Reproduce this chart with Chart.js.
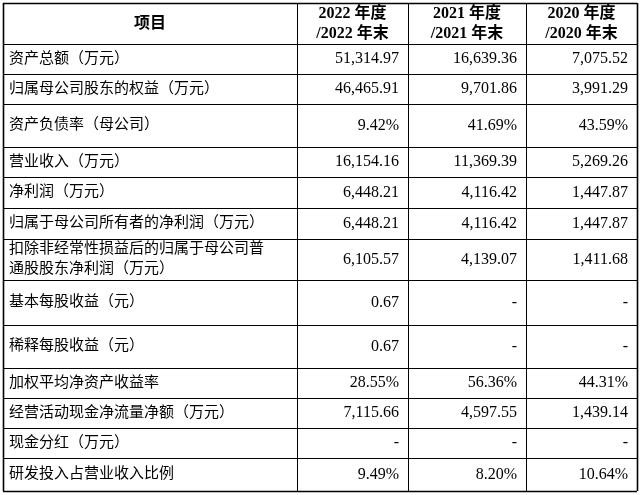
<!DOCTYPE html>
<html><head><meta charset="utf-8">
<script src="https://cdn.jsdelivr.net/npm/chart.js@4"></script>
<style>html,body{margin:0;padding:0;background:#fff}#w{width:640px;height:495px}</style>
</head><body><div id="w"><canvas id="c"></canvas></div>
<script>
const headers = ["项目", "2022 年度\n/2022 年末", "2021 年度\n/2021 年末", "2020 年度\n/2020 年末"];
const items = ["资产总额（万元）","归属母公司股东的权益（万元）","资产负债率（母公司）","营业收入（万元）","净利润（万元）","归属于母公司所有者的净利润（万元）","扣除非经常性损益后的归属于母公司普\n通股股东净利润（万元）","基本每股收益（元）","稀释每股收益（元）","加权平均净资产收益率","经营活动现金净流量净额（万元）","现金分红（万元）","研发投入占营业收入比例"];
const v2022 = ["51,314.97","46,465.91","9.42%","16,154.16","6,448.21","6,448.21","6,105.57","0.67","0.67","28.55%","7,115.66","-","9.49%"];
const v2021 = ["16,639.36","9,701.86","41.69%","11,369.39","4,116.42","4,116.42","4,139.07","-","-","56.36%","4,597.55","-","8.20%"];
const v2020 = ["7,075.52","3,991.29","43.59%","5,269.26","1,447.87","1,447.87","1,411.68","-","-","44.31%","1,439.14","-","10.64%"];
// layout (pixel grid in scale units)
const rowEdges = [3,44,74,104,147,177,208,239,280,325,368,398,428,458,491];
const colEdges = [3,297,408,526,637];
const cols = [v2022, v2021, v2020];

const tablePlugin = {
  id:'table',
  afterDraw(chart){
    const ctx = chart.ctx, X = chart.scales.x, Y = chart.scales.y;
    const px = v => X.getPixelForValue(v), py = v => Y.getPixelForValue(v);
    ctx.save();
    ctx.strokeStyle = '#000';
    rowEdges.forEach((r,i)=>{
      ctx.lineWidth = (i===0||i===rowEdges.length-1)?1.6:1;
      ctx.beginPath(); ctx.moveTo(px(colEdges[0]),py(r)+.5); ctx.lineTo(px(colEdges[4]),py(r)+.5); ctx.stroke();
    });
    colEdges.forEach((c,i)=>{
      ctx.lineWidth = (i===0||i===colEdges.length-1)?1.6:1;
      ctx.beginPath(); ctx.moveTo(px(c)+.5,py(rowEdges[0])); ctx.lineTo(px(c)+.5,py(rowEdges[rowEdges.length-1])); ctx.stroke();
    });
    ctx.fillStyle = '#000'; ctx.textBaseline='middle';
    const drawLines = (txt, x, yc, align, font) => {
      const lines = txt.split('\n'); ctx.font = font; ctx.textAlign = align;
      const lh = 20; const y0 = yc - (lines.length-1)*lh/2;
      lines.forEach((l,k)=>ctx.fillText(l, x, y0+k*lh));
    };
    const hc = (py(rowEdges[0])+py(rowEdges[1]))/2;
    const hf = 'bold 16px "Liberation Serif","Noto Sans CJK SC"';
    drawLines(headers[0], (px(colEdges[0])+px(colEdges[1]))/2, hc, 'center', hf);
    for(let j=1;j<4;j++) drawLines(headers[j], (px(colEdges[j])+px(colEdges[j+1]))/2, hc, 'center', hf);
    items.forEach((it,i)=>{
      const yc = (py(rowEdges[i+1])+py(rowEdges[i+2]))/2;
      drawLines(it, px(colEdges[0])+6, yc, 'left', '15px "Liberation Serif","Noto Sans CJK SC"');
      cols.forEach((arr,j)=>drawLines(arr[i], px(colEdges[j+2])-9, yc, 'right', '16px "Liberation Serif","Noto Sans CJK SC"'));
    });
    ctx.restore();
  }
};
new Chart(document.getElementById('c'), {
  type:'scatter',
  data:{datasets:[{data:[]}]},
  options:{
    responsive:true, maintainAspectRatio:false, animation:false,
    layout:{padding:0},
    plugins:{legend:{display:false},tooltip:{enabled:false}},
    scales:{
      x:{type:'linear',min:0,max:640,display:false},
      y:{type:'linear',min:0,max:495,reverse:true,display:false}
    }
  },
  plugins:[tablePlugin]
});
</script></body></html>
